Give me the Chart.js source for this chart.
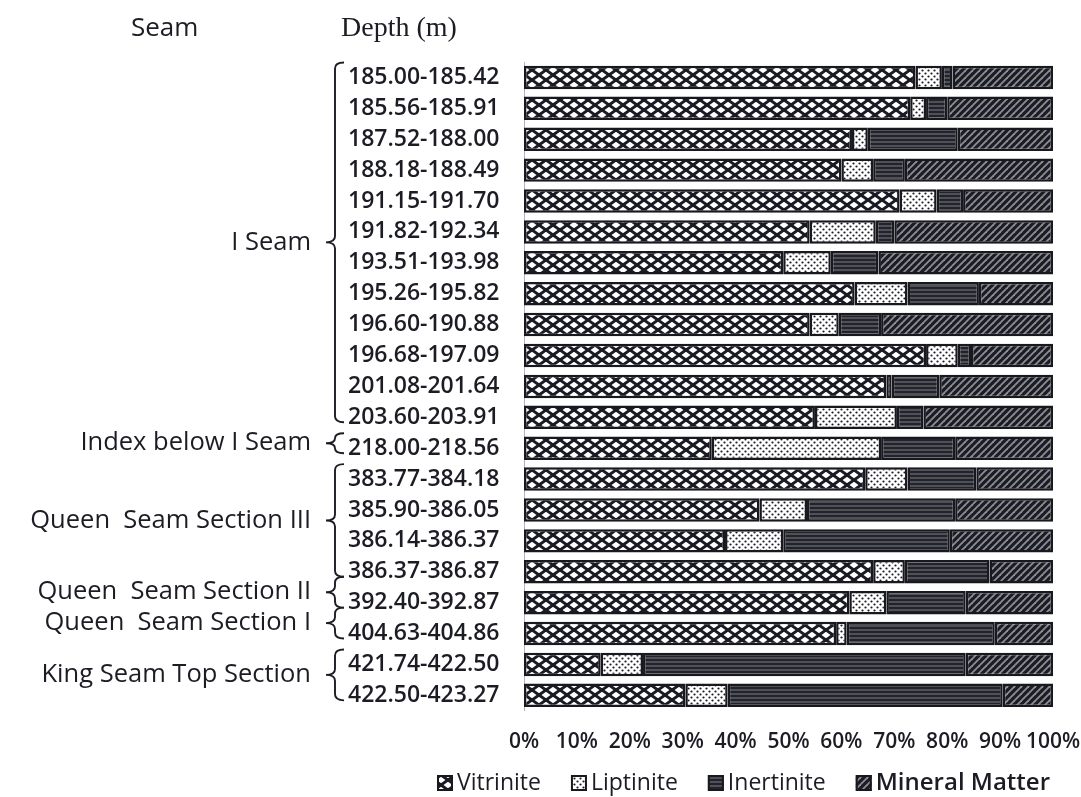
<!DOCTYPE html>
<html>
<head>
<meta charset="utf-8">
<title>Maceral composition by depth</title>
<script src="https://cdn.jsdelivr.net/npm/chart.js@4.4.1/dist/chart.umd.min.js"></script>
<style>
  html, body { margin: 0; padding: 0; background: #ffffff; }
  #wrap { width: 1081px; height: 797px; position: relative; }
</style>
</head>
<body>
<div id="wrap"><canvas id="c" width="1081" height="797"></canvas></div>
<script>
// Sample depth intervals (m), top to bottom
const depths = [
  '185.00-185.42', '185.56-185.91', '187.52-188.00', '188.18-188.49',
  '191.15-191.70', '191.82-192.34', '193.51-193.98', '195.26-195.82',
  '196.60-190.88', '196.68-197.09', '201.08-201.64', '203.60-203.91',
  '218.00-218.56', '383.77-384.18', '385.90-386.05', '386.14-386.37',
  '386.37-386.87', '392.40-392.87', '404.63-404.86', '421.74-422.50',
  '422.50-423.27'
];

// Maceral group proportions (%) for each interval
const vitrinite  = [74, 73, 62, 60, 71, 54, 49, 62.5, 54, 76, 68.5, 55, 35.5, 64.5, 44.5, 38, 66, 61.5, 59, 14.5, 30.5];
const liptinite  = [5, 3, 3, 6, 7, 12.5, 9, 10, 5.5, 6, 1, 15.5, 32, 8, 9, 11, 6, 7, 2, 8, 8];
const inertinite = [2, 4, 17, 6, 5, 3.5, 9, 13.5, 8, 2.5, 9, 5, 14, 13, 28, 31.5, 16, 15, 28, 61, 52];
const mineral    = [19, 20, 18, 28, 17, 30, 33, 14, 32.5, 15.5, 21.5, 24.5, 18.5, 14.5, 18.5, 19.5, 12, 16.5, 11, 16.5, 9.5];

const seriesNames = ['Vitrinite', 'Liptinite', 'Inertinite', 'Mineral Matter'];
const xTicks = [0, 10, 20, 30, 40, 50, 60, 70, 80, 90, 100];

// Seam groupings (row index ranges, inclusive)
const seamNames = ['I Seam', 'Index below I Seam', 'Queen  Seam Section III', 'Queen  Seam Section II', 'Queen  Seam Section I', 'King Seam Top Section'];
const seamFirst = [0, 12, 13, 16, 17, 19];
const seamLast  = [11, 12, 16, 17, 18, 20];

const INK = '#1c1c24';
const canvas = document.getElementById('c');
const ctx = canvas.getContext('2d');

// ---- fill patterns ----
function tilePattern(w, h, paint) {
  const t = document.createElement('canvas');
  t.width = w; t.height = h;
  paint(t.getContext('2d'), w, h);
  return ctx.createPattern(t, 'repeat');
}
function strokeRepeated(g, w, h, segs) {
  for (const dx of [-w, 0, w]) for (const dy of [-h, 0, h]) {
    for (const s of segs) {
      g.beginPath();
      g.moveTo(s[0] + dx, s[1] + dy);
      g.lineTo(s[2] + dx, s[3] + dy);
      g.stroke();
    }
  }
}
const crossHatch = tilePattern(14, 10, (g, w, h) => {
  g.fillStyle = '#ffffff'; g.fillRect(0, 0, w, h);
  g.strokeStyle = '#1a1a24'; g.lineWidth = 3;
  strokeRepeated(g, w, h, [[0, 0, w, h], [0, h, w, 0]]);
});
const dotted = tilePattern(6, 6, (g, w, h) => {
  g.fillStyle = '#ffffff'; g.fillRect(0, 0, w, h);
  g.fillStyle = '#1a1a24';
  for (const [x, y] of [[1.5, 1.5], [4.5, 4.5]]) {
    g.beginPath(); g.arc(x, y, 1.1, 0, Math.PI * 2); g.fill();
  }
});
const hLines = tilePattern(4, 4, (g, w, h) => {
  g.fillStyle = '#22222a'; g.fillRect(0, 0, w, h);
  g.fillStyle = '#7e7e86'; g.fillRect(0, 1.5, w, 1);
});
const diagLines = tilePattern(7, 7, (g, w, h) => {
  g.fillStyle = '#1c1c24'; g.fillRect(0, 0, w, h);
  g.strokeStyle = '#8e8e96'; g.lineWidth = 1.8;
  strokeRepeated(g, w, h, [[0, h, w, 0]]);
});
const fills = [crossHatch, dotted, hLines, diagLines];
const seriesData = [vitrinite, liptinite, inertinite, mineral];

// ---- drawing helpers for the annotation layer ----
function brace(g, x, top, bot, mid) {
  const r = Math.min(6, (mid - top) / 2, (bot - mid) / 2);
  g.beginPath();
  g.moveTo(x + 9, top);
  g.quadraticCurveTo(x, top, x, top + r);
  g.lineTo(x, mid - r);
  g.quadraticCurveTo(x, mid, x - 9, mid);
  g.quadraticCurveTo(x, mid, x, mid + r);
  g.lineTo(x, bot - r);
  g.quadraticCurveTo(x, bot, x + 9, bot);
  g.stroke();
}

const annotations = {
  id: 'annotations',
  afterDraw(chart) {
    const g = chart.ctx;
    const y = chart.scales.y;
    g.save();
    g.fillStyle = INK;
    g.strokeStyle = INK;

    // column headers
    g.textBaseline = 'middle';
    g.textAlign = 'left';
    g.font = '26px "Open Sans"';
    g.fillText('Seam', 131, 29);
    g.font = '28px "Liberation Serif"';
    g.fillText('Depth (m)', 341, 29);

    // seam braces and names
    g.lineWidth = 1.9;
    const braceX = 335;
    for (let i = 0; i < seamNames.length; i++) {
      const shared = i > 0 && seamFirst[i] === seamLast[i - 1];
      const top = shared ? y.getPixelForValue(seamFirst[i]) + 5 : y.getPixelForValue(seamFirst[i]) - 15;
      const bot = y.getPixelForValue(seamLast[i]) + 5;
      const mid = (top + bot) / 2;
      brace(g, braceX, top, bot, mid);
      g.font = '25.5px "Open Sans"';
      g.textAlign = 'right';
      g.textBaseline = 'middle';
      g.fillText(seamNames[i], braceX - 24, mid);
    }

    // legend
    const ly = 783;
    let lx = 437;
    const box = 16;
    for (let i = 0; i < seriesNames.length; i++) {
      g.fillStyle = fills[i];
      g.fillRect(lx, ly - box / 2, box, box);
      g.lineWidth = 2;
      g.strokeStyle = '#18181f';
      g.strokeRect(lx + 1, ly - box / 2 + 1, box - 2, box - 2);
      g.fillStyle = INK;
      g.textAlign = 'left';
      g.font = i === 3 ? '600 24px "Open Sans"' : '23px "Open Sans"';
      g.fillText(seriesNames[i], lx + box + 4, ly);
      lx += box + 4 + g.measureText(seriesNames[i]).width + 30;
    }
    g.restore();
  }
};

new Chart(canvas, {
  type: 'bar',
  data: {
    labels: depths,
    datasets: seriesNames.map((name, i) => ({
      label: name,
      data: seriesData[i],
      backgroundColor: fills[i],
      borderColor: '#18181f',
      borderWidth: 2.5,
      borderSkipped: false,
      barPercentage: 0.76,
      categoryPercentage: 1
    }))
  },
  options: {
    indexAxis: 'y',
    responsive: false,
    animation: false,
    layout: { padding: { left: 348, right: 28, top: 62, bottom: 23 } },
    plugins: { legend: { display: false }, tooltip: { enabled: false } },
    scales: {
      x: {
        stacked: true,
        min: 0,
        max: 100,
        afterBuildTicks: (s) => { s.ticks = xTicks.map(v => ({ value: v })); },
        afterFit: (s) => { s.paddingLeft = 0; s.paddingRight = 0; },
        grid: { display: false, drawTicks: false },
        border: { display: false },
        ticks: {
          autoSkip: false,
          maxRotation: 0,
          padding: 19,
          color: INK,
          font: { family: 'Open Sans', size: 21, weight: '600' },
          callback: (v) => v + '%'
        }
      },
      y: {
        stacked: true,
        grid: { display: false, drawTicks: false },
        border: { display: true, color: '#b4b4b8', width: 1 },
        afterFit: (s) => { s.width = 176; },
        ticks: {
          crossAlign: 'far',
          autoSkip: false,
          color: INK,
          font: { family: 'Open Sans', size: 23, weight: '600' }
        }
      }
    }
  },
  plugins: [annotations]
});
</script>
</body>
</html>
